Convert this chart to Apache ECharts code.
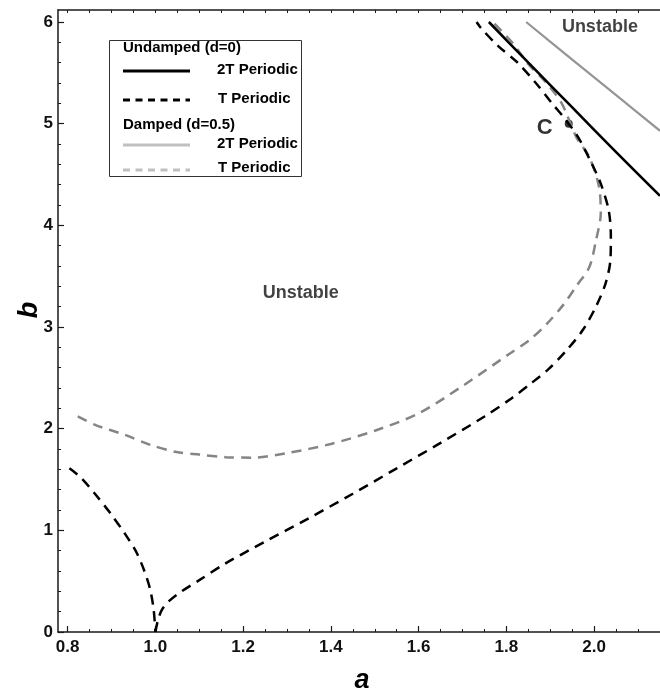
<!DOCTYPE html>
<html>
<head>
<meta charset="utf-8">
<title>Stability chart</title>
<script src="https://cdn.jsdelivr.net/npm/echarts@6/dist/echarts.min.js"></script>
<style>
  html, body { margin: 0; padding: 0; background: #fff; }
  #chart { width: 660px; height: 692px; }
</style>
</head>
<body>
<div id="chart"></div>
<script>
// Axis extents (a horizontal, b vertical)
const A_MIN = 0.778, A_MAX = 2.15;
const B_MIN = 0, B_MAX = 6.118;

// Tick labels
const aTickLabels = [0.8, 1.0, 1.2, 1.4, 1.6, 1.8, 2.0];
const bTickLabels = [0, 1, 2, 3, 4, 5, 6];

// Undamped (d=0), 2T periodic boundary  [a, b]
const undamped2T = [
  [1.760, 6.00], [1.850, 5.60], [1.950, 5.16], [2.050, 4.72], [2.150, 4.29]
];

// Undamped (d=0), T periodic boundary: branch left of the cusp at a=1
const undampedT_left = [
  [0.804, 1.61], [0.830, 1.52], [0.864, 1.35], [0.897, 1.17], [0.930, 0.97],
  [0.956, 0.79], [0.974, 0.61], [0.988, 0.42], [0.996, 0.22], [1.000, 0.00]
];

// Undamped (d=0), T periodic boundary: branch right of the cusp
const undampedT_right = [
  [1.000, 0.00], [1.006, 0.12], [1.015, 0.22], [1.030, 0.30], [1.060, 0.40],
  [1.100, 0.51], [1.160, 0.675], [1.250, 0.89], [1.350, 1.12], [1.450, 1.36],
  [1.550, 1.61], [1.650, 1.86], [1.750, 2.12], [1.812, 2.30], [1.856, 2.445],
  [1.897, 2.59], [1.937, 2.77], [1.974, 2.97], [2.004, 3.20], [2.026, 3.43],
  [2.037, 3.66], [2.038, 3.89], [2.033, 4.15], [2.015, 4.41], [1.993, 4.62],
  [1.963, 4.87], [1.933, 5.05], [1.904, 5.20], [1.867, 5.40], [1.823, 5.61],
  [1.782, 5.76], [1.742, 5.94], [1.732, 6.00]
];

// Damped (d=0.5), 2T periodic boundary
const damped2T = [
  [1.845, 6.00], [1.950, 5.63], [2.050, 5.28], [2.150, 4.93]
];

// Damped (d=0.5), T periodic boundary
const dampedT = [
  [0.823, 2.12], [0.864, 2.035], [0.930, 1.94], [0.989, 1.84], [1.048, 1.77],
  [1.100, 1.745], [1.160, 1.72], [1.220, 1.715], [1.300, 1.76], [1.400, 1.85],
  [1.500, 1.98], [1.600, 2.15], [1.700, 2.42], [1.808, 2.74], [1.852, 2.87],
  [1.893, 3.035], [1.930, 3.22], [1.959, 3.40], [1.989, 3.59], [2.004, 3.85],
  [2.015, 4.12], [2.011, 4.38], [1.989, 4.67], [1.959, 4.87], [1.926, 5.20],
  [1.889, 5.41], [1.849, 5.59], [1.815, 5.79], [1.771, 5.99]
];

// Marked operating point
const pointC = [[1.942, 5.0]];
const pointCName = 'C';

// Region annotations
const regionNames = ['Unstable', 'Unstable'];
const regionA = [1.331, 2.013];
const regionB = [3.333, 5.95];

// ---- styling ----
const FONT = '"Liberation Sans", Arial, sans-serif';
const BLACK = '#000000';
const GRAY_SOLID = '#959595';
const GRAY_DASH = '#858585';
const LEGEND_GRAY = '#c0c0c0';
const DASH = [10, 7];

function steps(from, to, step) {
  const out = [];
  const n = Math.round((to - from) / step);
  for (let i = 0; i <= n; i++) out.push(Math.round((from + i * step) * 1000) / 1000);
  return out;
}
const aMinorTicks = steps(0.8, 2.15, 0.05);
const bMinorTicks = steps(0, 6, 0.2);

const chart = echarts.init(document.getElementById('chart'), null, { renderer: 'canvas' });

const frameLine = { show: true, lineStyle: { color: '#1a1a1a', width: 1.5 } };
const labelStyle = { fontFamily: FONT, fontWeight: 'bold', fontSize: 17, color: '#111' };

function xAxisDef(position, opts) {
  return Object.assign({
    type: 'value', position: position, gridIndex: 0,
    min: A_MIN, max: A_MAX,
    splitLine: { show: false },
    axisLine: { show: false },
    axisLabel: { show: false },
    axisTick: { show: false }
  }, opts);
}
function yAxisDef(opts) {
  return Object.assign({
    type: 'value', position: 'left', gridIndex: 0,
    min: B_MIN, max: B_MAX,
    splitLine: { show: false },
    axisLine: { show: false },
    axisLabel: { show: false },
    axisTick: { show: false }
  }, opts);
}

const option = {
  backgroundColor: '#ffffff',
  animation: false,
  grid: { left: 58, top: 10, width: 620, bottom: 60, containLabel: false },
  xAxis: [
    xAxisDef('bottom', {
      axisLine: frameLine,
      axisTick: { show: true, inside: true, length: 6, customValues: aTickLabels,
                  lineStyle: { color: '#1a1a1a', width: 1.2 } },
      axisLabel: Object.assign({ show: true, margin: 7, customValues: aTickLabels,
                  formatter: v => Number(v).toFixed(1) }, labelStyle)
    }),
    xAxisDef('bottom', {
      axisTick: { show: true, inside: true, length: 3, customValues: aMinorTicks,
                  lineStyle: { color: '#1a1a1a', width: 1 } }
    }),
    xAxisDef('top', {
      axisLine: frameLine,
      axisTick: { show: true, inside: true, length: 3, customValues: aMinorTicks,
                  lineStyle: { color: '#1a1a1a', width: 1 } }
    })
  ],
  yAxis: [
    yAxisDef({
      axisLine: frameLine,
      axisTick: { show: true, inside: true, length: 6, customValues: bTickLabels,
                  lineStyle: { color: '#1a1a1a', width: 1.2 } },
      axisLabel: Object.assign({ show: true, margin: 5, customValues: bTickLabels,
                  formatter: v => String(Math.round(v)) }, labelStyle)
    }),
    yAxisDef({
      axisTick: { show: true, inside: true, length: 3, customValues: bMinorTicks,
                  lineStyle: { color: '#1a1a1a', width: 1 } }
    })
  ],
  series: [
    {
      name: 'Damped T Periodic', type: 'line', data: dampedT,
      showSymbol: false, smooth: 0.3, clip: true,
      lineStyle: { color: GRAY_DASH, width: 2.5, type: DASH }
    },
    {
      name: 'Damped 2T Periodic', type: 'line', data: damped2T,
      showSymbol: false, smooth: 0.3, clip: true,
      lineStyle: { color: GRAY_SOLID, width: 2.2 }
    },
    {
      name: 'Undamped T Periodic', type: 'line', data: undampedT_left,
      showSymbol: false, smooth: 0.3, clip: true,
      lineStyle: { color: BLACK, width: 2.5, type: DASH }
    },
    {
      name: 'Undamped T Periodic', type: 'line', data: undampedT_right,
      showSymbol: false, smooth: 0.3, clip: true,
      lineStyle: { color: BLACK, width: 2.5, type: DASH }
    },
    {
      name: 'Undamped 2T Periodic', type: 'line', data: undamped2T,
      showSymbol: false, smooth: 0.3, clip: true,
      lineStyle: { color: BLACK, width: 2.6 }
    },
    {
      name: 'Point C', type: 'scatter', data: pointC,
      symbol: 'circle', symbolSize: 8,
      itemStyle: { color: BLACK },
      label: {
        show: true, position: 'left', distance: 12, offset: [0, 4],
        formatter: pointCName,
        fontFamily: FONT, fontWeight: 'bold', fontSize: 22, color: '#000'
      }
    },
    {
      name: 'Regions', type: 'scatter', symbolSize: 0,
      data: regionNames.map((n, i) => ({ name: n, value: [regionA[i], regionB[i]] })),
      label: {
        show: true, position: 'inside', formatter: p => p.name,
        fontFamily: FONT, fontWeight: 'bold', fontSize: 18, color: '#111'
      }
    }
  ],
  graphic: [
    // legend box
    { type: 'rect', shape: { x: 109.5, y: 40.5, width: 192, height: 136 },
      style: { fill: '#ffffff', stroke: '#333', lineWidth: 1 }, z: 100 },
    { type: 'text', z: 101, style: { text: 'Undamped (d=0)', x: 123, y: 48, verticalAlign: 'middle',
      font: 'bold 15px ' + FONT, fill: '#000' } },
    { type: 'line', z: 101, shape: { x1: 123, y1: 71, x2: 190, y2: 71 },
      style: { stroke: BLACK, lineWidth: 3 } },
    { type: 'text', z: 101, style: { text: '2T Periodic', x: 217, y: 70, verticalAlign: 'middle',
      font: 'bold 15px ' + FONT, fill: '#000' } },
    { type: 'line', z: 101, shape: { x1: 123, y1: 100, x2: 190, y2: 100 },
      style: { stroke: BLACK, lineWidth: 3, lineDash: [7, 5.5] } },
    { type: 'text', z: 101, style: { text: 'T Periodic', x: 218, y: 99, verticalAlign: 'middle',
      font: 'bold 15px ' + FONT, fill: '#000' } },
    { type: 'text', z: 101, style: { text: 'Damped (d=0.5)', x: 123, y: 125, verticalAlign: 'middle',
      font: 'bold 15px ' + FONT, fill: '#000' } },
    { type: 'line', z: 101, shape: { x1: 123, y1: 145, x2: 190, y2: 145 },
      style: { stroke: LEGEND_GRAY, lineWidth: 3 } },
    { type: 'text', z: 101, style: { text: '2T Periodic', x: 217, y: 144, verticalAlign: 'middle',
      font: 'bold 15px ' + FONT, fill: '#000' } },
    { type: 'line', z: 101, shape: { x1: 123, y1: 170, x2: 190, y2: 170 },
      style: { stroke: LEGEND_GRAY, lineWidth: 3, lineDash: [7, 5.5] } },
    { type: 'text', z: 101, style: { text: 'T Periodic', x: 218, y: 168, verticalAlign: 'middle',
      font: 'bold 15px ' + FONT, fill: '#000' } },
    // axis titles
    { type: 'text', z: 101, style: { text: 'a', x: 362, y: 681, align: 'center', verticalAlign: 'middle',
      font: 'italic bold 27px ' + FONT, fill: '#000' } },
    { type: 'text', z: 101, x: 30, y: 310, rotation: Math.PI / 2,
      style: { text: 'b', x: 0, y: 0, align: 'center', verticalAlign: 'middle',
      font: 'italic bold 27px ' + FONT, fill: '#000' } }
  ]
};

chart.setOption(option);
</script>
</body>
</html>
